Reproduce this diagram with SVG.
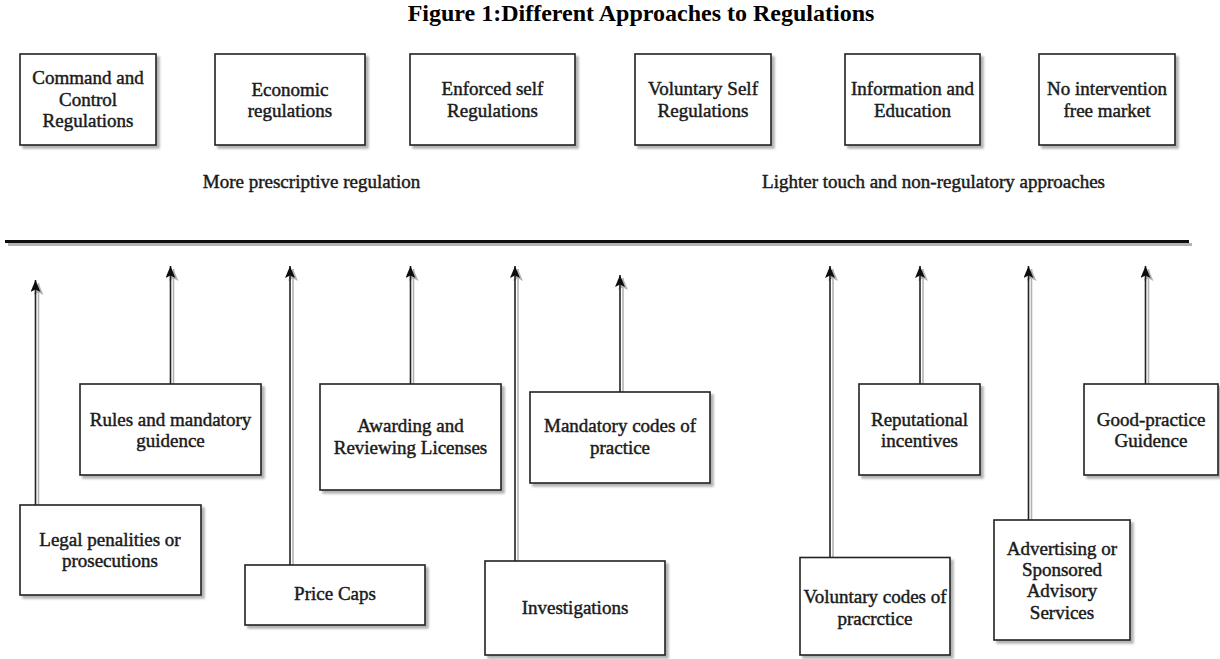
<svg xmlns="http://www.w3.org/2000/svg" width="1220" height="659" viewBox="0 0 1220 659">
<defs>
<style>
.box{fill:#fff;stroke:#222;stroke-width:1.6;filter:url(#sh)}
.t{font-family:"Liberation Serif","Times New Roman",serif;font-size:19px;fill:#1a1a1a;text-anchor:middle;stroke:#1a1a1a;stroke-width:0.45}
.title{font-family:"Liberation Serif","Times New Roman",serif;font-size:24px;font-weight:bold;fill:#000;text-anchor:middle}
.c{stroke:#222;stroke-width:1.6;fill:none;marker-end:url(#ah);filter:url(#lsh)}
</style>
<filter id="sh" x="-10%" y="-10%" width="130%" height="130%">
<feGaussianBlur in="SourceAlpha" stdDeviation="0.8"/>
<feOffset dx="3" dy="3"/>
<feComponentTransfer><feFuncA type="linear" slope="0.3"/></feComponentTransfer>
<feMerge><feMergeNode/><feMergeNode in="SourceGraphic"/></feMerge>
</filter>
<filter id="lsh" filterUnits="userSpaceOnUse" x="0" y="0" width="1220" height="659">
<feGaussianBlur in="SourceAlpha" stdDeviation="0.6"/>
<feOffset dx="2.5" dy="2.5"/>
<feComponentTransfer><feFuncA type="linear" slope="0.3"/></feComponentTransfer>
<feMerge><feMergeNode/><feMergeNode in="SourceGraphic"/></feMerge>
</filter>
<marker id="ah" markerWidth="12" markerHeight="10" refX="12" refY="5" orient="auto" markerUnits="userSpaceOnUse" viewBox="0 0 12 10">
<path d="M0,0 L12,5 L0,10 L2.5,5 z" fill="#111"/>
</marker>
</defs>
<rect width="1220" height="659" fill="#fff"/>

<text class="title" x="641" y="21">Figure 1:Different Approaches to Regulations</text>

<g id="top-command"><rect class="box" x="20" y="54" width="136" height="91"/>
<text class="t" x="88" y="84">Command and</text><text class="t" x="88" y="105.5">Control</text><text class="t" x="88" y="127">Regulations</text></g>
<g id="top-economic"><rect class="box" x="215" y="54" width="150" height="91"/>
<text class="t" x="290" y="95.5">Economic</text><text class="t" x="290" y="117">regulations</text></g>
<g id="top-enforced"><rect class="box" x="410" y="54" width="165" height="91"/>
<text class="t" x="492.5" y="95">Enforced self</text><text class="t" x="492.5" y="117">Regulations</text></g>
<g id="top-voluntary"><rect class="box" x="635" y="54" width="136" height="91"/>
<text class="t" x="703" y="95">Voluntary Self</text><text class="t" x="703" y="117">Regulations</text></g>
<g id="top-information"><rect class="box" x="845" y="54" width="135" height="91"/>
<text class="t" x="912.5" y="95">Information and</text><text class="t" x="912.5" y="117">Education</text></g>
<g id="top-nointervention"><rect class="box" x="1039" y="54" width="136" height="91"/>
<text class="t" x="1107" y="95">No intervention</text><text class="t" x="1107" y="117">free market</text></g>

<text class="t" x="311.5" y="188">More prescriptive regulation</text>
<text class="t" x="933.5" y="188">Lighter touch and non-regulatory approaches</text>

<g id="axis"><line x1="5" y1="241.5" x2="1189" y2="241.5" stroke="#111" stroke-width="3" filter="url(#lsh)"/></g>

<g id="connectors">
<line class="c" x1="35.5" y1="505" x2="35.5" y2="280"/>
<line class="c" x1="170.5" y1="384" x2="170.5" y2="266"/>
<line class="c" x1="290" y1="565" x2="290" y2="266"/>
<line class="c" x1="410.5" y1="384" x2="410.5" y2="266"/>
<line class="c" x1="515" y1="561" x2="515" y2="266"/>
<line class="c" x1="620" y1="392" x2="620" y2="275"/>
<line class="c" x1="830" y1="557.5" x2="830" y2="266"/>
<line class="c" x1="920" y1="384" x2="920" y2="266"/>
<line class="c" x1="1028.5" y1="520" x2="1028.5" y2="266"/>
<line class="c" x1="1145.5" y1="384" x2="1145.5" y2="266"/>
</g>

<g id="legal"><rect class="box" x="20" y="505" width="181" height="90"/>
<text class="t" x="110" y="545.5">Legal penalities or</text><text class="t" x="110" y="567">prosecutions</text></g>
<g id="rules"><rect class="box" x="80" y="384" width="181" height="91"/>
<text class="t" x="170.5" y="425.5">Rules and mandatory</text><text class="t" x="170.5" y="447">guidence</text></g>
<g id="pricecaps"><rect class="box" x="245" y="565" width="180" height="60"/>
<text class="t" x="335" y="600">Price Caps</text></g>
<g id="awarding"><rect class="box" x="320" y="384" width="181" height="106"/>
<text class="t" x="410.5" y="432">Awarding and</text><text class="t" x="410.5" y="454">Reviewing Licenses</text></g>
<g id="mandatory"><rect class="box" x="530" y="392" width="180" height="91"/>
<text class="t" x="620" y="432">Mandatory codes of</text><text class="t" x="620" y="454">practice</text></g>
<g id="investigations"><rect class="box" x="485" y="561" width="180" height="94"/>
<text class="t" x="575" y="614">Investigations</text></g>
<g id="voluntarycodes"><rect class="box" x="800" y="557.5" width="150" height="97.5"/>
<text class="t" x="875" y="603">Voluntary codes of</text><text class="t" x="875" y="624.5">pracrctice</text></g>
<g id="reputational"><rect class="box" x="859" y="384" width="121" height="91"/>
<text class="t" x="919.5" y="425.5">Reputational</text><text class="t" x="919.5" y="447">incentives</text></g>
<g id="advertising"><rect class="box" x="994" y="520" width="136" height="120"/>
<text class="t" x="1062" y="554.5">Advertising or</text><text class="t" x="1062" y="575.5">Sponsored</text><text class="t" x="1062" y="597">Advisory</text><text class="t" x="1062" y="619">Services</text></g>
<g id="goodpractice"><rect class="box" x="1084" y="384" width="134" height="91"/>
<text class="t" x="1151" y="425.5">Good-practice</text><text class="t" x="1151" y="447">Guidence</text></g>
</svg>
